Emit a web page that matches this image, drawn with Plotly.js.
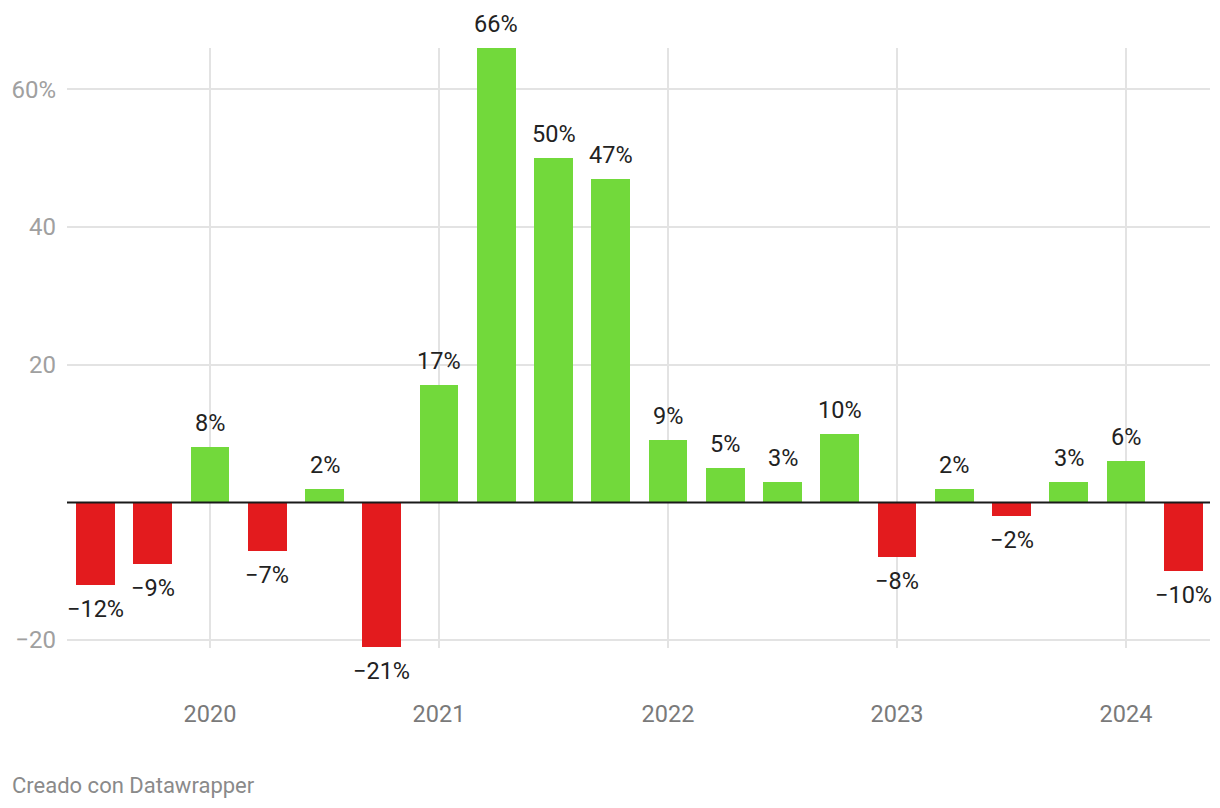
<!DOCTYPE html>
<html>
<head>
<meta charset="utf-8">
<script src="https://cdn.plot.ly/plotly-3.0.1.min.js"></script>
<style>
  html, body { margin: 0; padding: 0; background: #fff; }
  #chart { width: 1220px; height: 808px; }
</style>
</head>
<body>
<div id="chart"></div>
<script>
// Quarterly change (%), from 2019 Q3 to 2024 Q2
const years    = [2019, 2019, 2020, 2020, 2020, 2020, 2021, 2021, 2021, 2021, 2022, 2022, 2022, 2022, 2023, 2023, 2023, 2023, 2024, 2024];
const quarters = [3, 4, 1, 2, 3, 4, 1, 2, 3, 4, 1, 2, 3, 4, 1, 2, 3, 4, 1, 2];
const values   = [-12, -9, 8, -7, 2, -21, 17, 66, 50, 47, 9, 5, 3, 10, -8, 2, -2, 3, 6, -10];

const yTickVals = [-20, 20, 40, 60];
const yTickText = ['\u221220', '20', '40', '60%'];
const xTickVals = [2020, 2021, 2022, 2023, 2024];
const xTickText = ['2020', '2021', '2022', '2023', '2024'];

const GREEN = '#72d93b';
const RED = '#e31b1e';
const FONT = 'Roboto, "Noto Sans", sans-serif';

const x = years.map((y, i) => y + (quarters[i] - 3) / 4 + 0.5);
const colors = values.map(v => v >= 0 ? GREEN : RED);
const fmt = v => (v < 0 ? '\u2212' + Math.abs(v) : String(v)) + '%';

const trace = {
  type: 'bar',
  x: x,
  y: values,
  width: 0.17,
  marker: { color: colors, line: { width: 0 } },
  hoverinfo: 'skip'
};

const annotations = values.map((v, i) => ({
  x: x[i], y: v, xref: 'x', yref: 'y',
  text: fmt(v),
  showarrow: false,
  xanchor: 'center', yanchor: 'middle',
  yshift: v >= 0 ? 24 : -24,
  font: { family: FONT, size: 23.5, color: '#222222' }
}));

annotations.push({
  xref: 'paper', yref: 'paper',
  x: 0, y: 0, xshift: -57, yshift: -137,
  xanchor: 'left', yanchor: 'middle',
  text: 'Creado con Datawrapper',
  showarrow: false,
  font: { family: FONT, size: 22, color: '#8a8a8a' }
});

const layout = {
  width: 1220, height: 808,
  margin: { l: 67, r: 10, t: 48, b: 160 },
  paper_bgcolor: '#ffffff',
  plot_bgcolor: '#ffffff',
  showlegend: false,
  bargap: 0,
  font: { family: FONT },
  xaxis: {
    range: [2019.3755, 2024.3668],
    tickvals: xTickVals,
    ticktext: xTickText,
    showgrid: true,
    gridcolor: '#e3e3e3',
    gridwidth: 2,
    zeroline: false,
    showline: false,
    ticks: '',
    ticklabelstandoff: 49,
    tickfont: { family: FONT, size: 23.5, color: '#7a7a7a' },
    fixedrange: true
  },
  yaxis: {
    range: [-21.15, 66],
    tickvals: yTickVals,
    ticktext: yTickText,
    showgrid: true,
    gridcolor: '#e3e3e3',
    gridwidth: 2,
    zeroline: false,
    showline: false,
    ticks: '',
    ticklabelstandoff: 10,
    tickfont: { family: FONT, size: 24, color: '#a0a0a0' },
    fixedrange: true
  },
  shapes: [{
    type: 'line', xref: 'paper', yref: 'y',
    x0: 0, x1: 1, y0: 0, y1: 0,
    line: { color: '#1a1a1a', width: 2 },
    layer: 'above'
  }],
  annotations: annotations
};

Plotly.newPlot('chart', [trace], layout, { displayModeBar: false, staticPlot: true });
</script>
</body>
</html>
